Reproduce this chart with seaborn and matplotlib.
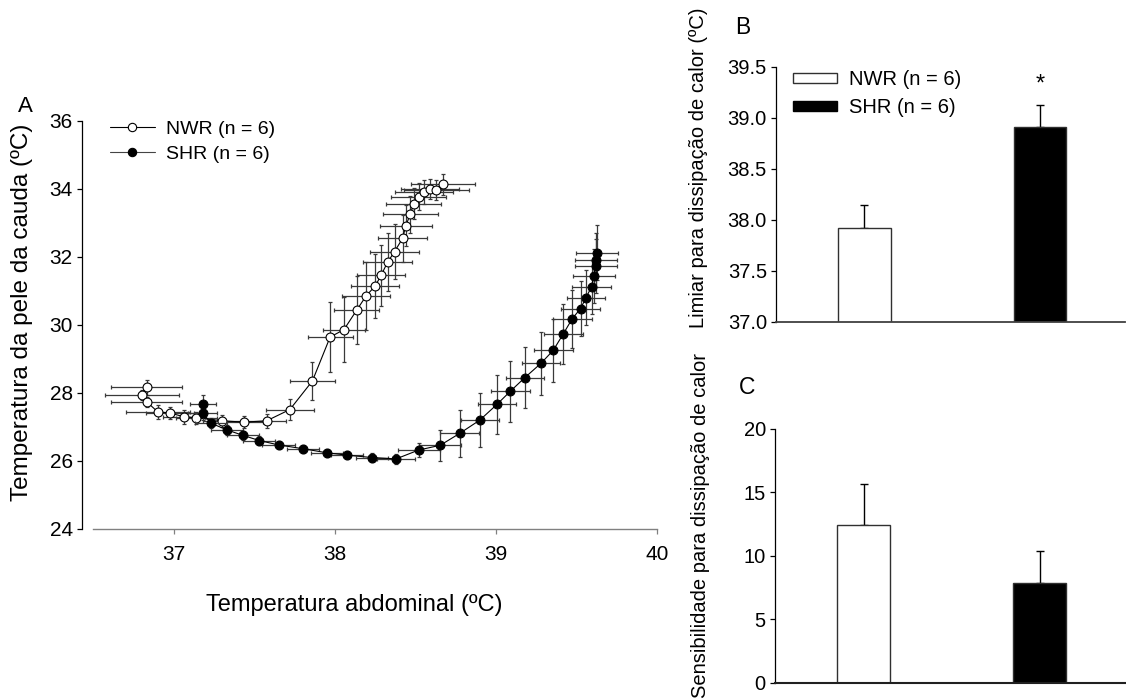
import numpy as np
import pandas as pd
import matplotlib
matplotlib.use('Agg')
import matplotlib.pyplot as plt
import seaborn as sns
from matplotlib.lines import Line2D
from matplotlib.patches import Patch

# ---------------- data: panel A ----------------
nwr_x = [36.83, 36.80, 36.83, 36.90, 36.975, 37.06, 37.14, 37.30, 37.435, 37.576,
         37.72, 37.86, 37.97, 38.056, 38.135, 38.195, 38.25, 38.286, 38.327, 38.37,
         38.42, 38.44, 38.468, 38.49, 38.52, 38.555, 38.59, 38.63, 38.67]
nwr_y = [28.16, 27.93, 27.74, 27.44, 27.41, 27.30, 27.27, 27.18, 27.14, 27.18,
         27.51, 28.35, 29.64, 29.86, 30.43, 30.86, 31.14, 31.45, 31.84, 32.15,
         32.54, 32.91, 33.25, 33.56, 33.77, 33.90, 34.00, 33.97, 34.13]
nwr_xerr = [0.22, 0.23, 0.22, 0.20, 0.15, 0.13, 0.13, 0.12, 0.12, 0.12,
            0.15, 0.14, 0.14, 0.13, 0.14, 0.15, 0.15, 0.15, 0.15, 0.15,
            0.15, 0.16, 0.17, 0.17, 0.17, 0.18, 0.18, 0.20, 0.20]
nwr_yerr = [0.22, 0.15, 0.15, 0.20, 0.18, 0.20, 0.18, 0.18, 0.18, 0.20,
            0.30, 0.55, 1.03, 0.95, 1.00, 1.00, 0.95, 0.90, 0.85, 0.80,
            0.70, 0.60, 0.55, 0.45, 0.40, 0.35, 0.30, 0.30, 0.30]

shr_x = [37.18, 37.18, 37.23, 37.33, 37.43, 37.53, 37.65, 37.80, 37.95, 38.075,
         38.23, 38.38, 38.52, 38.654, 38.775, 38.90, 39.006, 39.09, 39.18, 39.28,
         39.356, 39.418, 39.474, 39.526, 39.56, 39.594, 39.607, 39.62, 39.62, 39.63]
shr_y = [27.67, 27.40, 27.11, 26.91, 26.75, 26.60, 26.47, 26.36, 26.24, 26.17,
         26.10, 26.06, 26.32, 26.46, 26.81, 27.20, 27.66, 28.05, 28.45, 28.87,
         29.25, 29.73, 30.18, 30.48, 30.80, 31.12, 31.43, 31.73, 31.90, 32.12]
shr_xerr = [0.08, 0.09, 0.10, 0.10, 0.10, 0.10, 0.10, 0.10, 0.10, 0.10,
            0.10, 0.12, 0.13, 0.13, 0.12, 0.12, 0.12, 0.12, 0.12, 0.12,
            0.12, 0.12, 0.12, 0.12, 0.12, 0.12, 0.13, 0.13, 0.13, 0.13]
shr_yerr = [0.27, 0.20, 0.15, 0.15, 0.12, 0.12, 0.12, 0.12, 0.12, 0.12,
            0.12, 0.15, 0.20, 0.46, 0.69, 0.80, 0.88, 0.90, 0.90, 0.92,
            0.92, 0.88, 0.85, 0.80, 0.80, 0.80, 0.80, 0.80, 0.80, 0.80]

# ---------------- data: panels B and C ----------------
groups = ['NWR', 'SHR']
legend_labels = ['NWR (n = 6)', 'SHR (n = 6)']
limiar = [37.92, 38.91]
limiar_err = [0.23, 0.22]
sensib = [12.45, 7.9]
sensib_err = [3.25, 2.47]

x_ticks_A = [37, 38, 39, 40]
y_ticks_A = [24, 26, 28, 30, 32, 34, 36]
y_ticks_B = [37.0, 37.5, 38.0, 38.5, 39.0, 39.5]
y_ticks_C = [0, 5, 10, 15, 20]

sns.set_theme(style='ticks')
plt.rcParams['font.family'] = ['Liberation Sans', 'DejaVu Sans']
plt.rcParams.update({'text.color': 'black', 'axes.labelcolor': 'black',
                     'xtick.color': 'black', 'ytick.color': 'black',
                     'axes.edgecolor': 'black'})

fig = plt.figure(figsize=(11.26, 7), dpi=100)

# ---------------- panel A ----------------
axA = fig.add_axes([0.0830, 0.2443, 0.5004, 0.5833])
dfN = pd.DataFrame({'x': nwr_x, 'y': nwr_y})
dfS = pd.DataFrame({'x': shr_x, 'y': shr_y})

axA.errorbar(nwr_x, nwr_y, xerr=nwr_xerr, yerr=nwr_yerr, fmt='none',
             ecolor='#3a3a3a', elinewidth=0.9, capsize=1.6, capthick=0.9, zorder=2)
sns.lineplot(data=dfN, x='x', y='y', sort=False, estimator=None, color='black',
             lw=0.8, marker='o', markersize=6.4, markerfacecolor='white',
             markeredgecolor='black', markeredgewidth=0.8, ax=axA, zorder=3)
axA.errorbar(shr_x, shr_y, xerr=shr_xerr, yerr=shr_yerr, fmt='none',
             ecolor='#3a3a3a', elinewidth=0.9, capsize=1.6, capthick=0.9, zorder=4)
sns.lineplot(data=dfS, x='x', y='y', sort=False, estimator=None, color='black',
             lw=0.8, marker='o', markersize=6.4, markerfacecolor='black',
             markeredgecolor='black', markeredgewidth=0.8, ax=axA, zorder=5)

axA.set_xlim(36.5, 40)
axA.set_ylim(24, 36)
axA.set_xticks(x_ticks_A)
axA.set_yticks(y_ticks_A)
for s in ['top', 'right']:
    axA.spines[s].set_visible(False)
axA.spines['left'].set_position(('outward', 8.3))
axA.spines['left'].set_color('black')
axA.spines['left'].set_linewidth(0.9)
axA.spines['bottom'].set_color('#808080')
axA.spines['bottom'].set_linewidth(1.0)
axA.tick_params(axis='both', direction='out', length=3.6, width=0.9, labelsize=15,
                colors='black')
axA.tick_params(axis='x', color='#808080', pad=8)
axA.tick_params(axis='y', pad=3)
axA.set_xlabel('Temperatura abdominal (ºC)', fontsize=17)
axA.set_ylabel('Temperatura da pele da cauda (ºC)', fontsize=17.5)
axA.xaxis.set_label_coords(354 / 1126, 0.152, transform=fig.transFigure)
axA.yaxis.label.set_va('center')
axA.yaxis.set_label_coords(22 / 1126, 1 - 312 / 700, transform=fig.transFigure)

hA = [Line2D([], [], color='black', lw=0.8, marker='o', ms=6, mfc='white', mec='black', mew=0.8),
      Line2D([], [], color='#444444', lw=0.8, marker='o', ms=6, mfc='black', mec='black', mew=0.8)]
axA.legend(hA, legend_labels, loc='upper left', bbox_to_anchor=(110 / 1126, 1 - 120 / 700),
           bbox_transform=fig.transFigure, frameon=False, fontsize=14, borderpad=0,
           borderaxespad=0, handlelength=2.3, handletextpad=0.6, labelspacing=0.38)
fig.text(25 / 1126, 1 - 107 / 700, 'A', fontsize=16, ha='center', va='center')

# ---------------- panel B ----------------
axB = fig.add_axes([0.6892, 0.54, 0.3100, 0.3643])
dfB = pd.DataFrame({'grupo': groups, 'valor': limiar})
sns.barplot(data=dfB, x='grupo', y='valor', hue='grupo', order=groups, hue_order=groups,
            palette={'NWR': 'white', 'SHR': 'black'}, width=0.3, edgecolor='#303030',
            linewidth=1.0, errorbar=None, legend=False, ax=axB, zorder=2)
axB.errorbar([0, 1], limiar, yerr=[[0, 0], limiar_err], fmt='none', ecolor='black',
             elinewidth=1.0, capsize=3, capthick=1.0, zorder=1)
axB.text(1, limiar[1] + limiar_err[1] + 0.09, '*', ha='center', va='bottom', fontsize=17)
axB.set_ylim(37, 39.5)
axB.set_xlim(-0.503, 1.485)
axB.set_yticks(y_ticks_B)
axB.set_yticklabels([f'{v:.1f}' for v in y_ticks_B])
axB.set_xticks([])
axB.set_xlabel('')
axB.set_ylabel('Limiar para dissipação de calor (ºC)', fontsize=14.5)
axB.yaxis.label.set_va('center')
axB.yaxis.set_label_coords(698 / 1126, 1 - 168 / 700, transform=fig.transFigure)
for s in ['top', 'right']:
    axB.spines[s].set_visible(False)
axB.spines['left'].set_color('black')
axB.spines['left'].set_linewidth(0.9)
axB.spines['bottom'].set_color('#404040')
axB.spines['bottom'].set_linewidth(1.3)
axB.tick_params(axis='y', direction='out', length=3.6, width=0.9, labelsize=14.5, pad=3)
hB = [Patch(facecolor='white', edgecolor='#303030', linewidth=1.0),
      Patch(facecolor='black', edgecolor='black', linewidth=1.0)]
axB.legend(hB, legend_labels, loc='upper left', bbox_to_anchor=(793 / 1126, 1 - 70 / 700),
           bbox_transform=fig.transFigure, frameon=False, fontsize=14.5, borderpad=0,
           borderaxespad=0, handlelength=2.2, handleheight=0.42, handletextpad=0.6,
           labelspacing=0.45)
fig.text(743 / 1126, 1 - 28 / 700, 'B', fontsize=16.5, ha='center', va='center')

# ---------------- panel C ----------------
axC = fig.add_axes([0.6883, 0.0243, 0.3110, 0.3629])
dfC = pd.DataFrame({'grupo': groups, 'valor': sensib})
sns.barplot(data=dfC, x='grupo', y='valor', hue='grupo', order=groups, hue_order=groups,
            palette={'NWR': 'white', 'SHR': 'black'}, width=0.3, edgecolor='#303030',
            linewidth=1.0, errorbar=None, legend=False, ax=axC, zorder=2)
axC.errorbar([0, 1], sensib, yerr=[[0, 0], sensib_err], fmt='none', ecolor='black',
             elinewidth=1.0, capsize=3, capthick=1.0, zorder=1)
axC.set_ylim(0, 20)
axC.set_xlim(-0.503, 1.485)
axC.set_yticks(y_ticks_C)
axC.set_xticks([])
axC.set_xlabel('')
axC.set_ylabel('Sensibilidade para dissipação de calor', fontsize=14.5)
axC.yaxis.label.set_va('center')
axC.yaxis.set_label_coords(700 / 1126, 1 - 526 / 700, transform=fig.transFigure)
for s in ['top', 'right']:
    axC.spines[s].set_visible(False)
axC.spines['left'].set_color('black')
axC.spines['left'].set_linewidth(0.9)
axC.spines['bottom'].set_color('#202020')
axC.spines['bottom'].set_linewidth(1.5)
axC.tick_params(axis='y', direction='out', length=3.6, width=0.9, labelsize=14.5, pad=3)
fig.text(747 / 1126, 1 - 387 / 700, 'C', fontsize=16.5, ha='center', va='center')

fig.savefig('out.png', dpi=100)
